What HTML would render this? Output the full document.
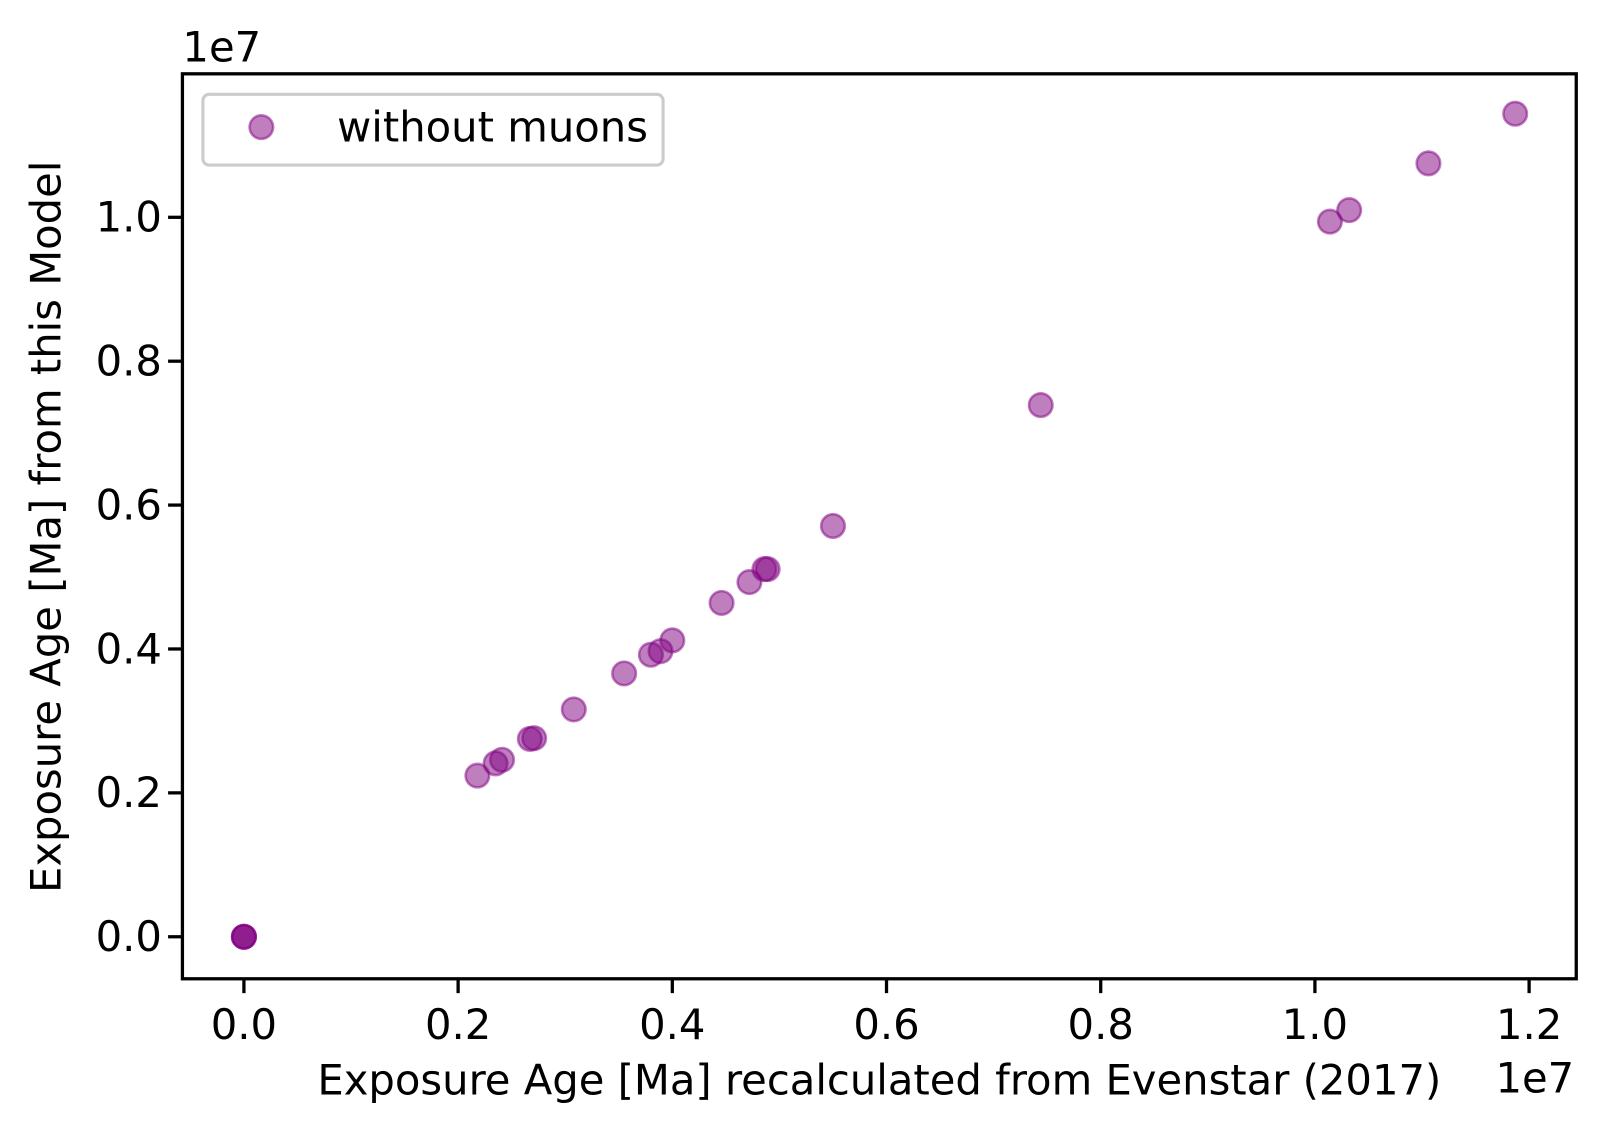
<!DOCTYPE html>
<html><head><meta charset="utf-8"><style>
html,body{margin:0;padding:0;background:#fff;}
svg{display:block;}
svg text{font-family:"DejaVu Sans","Liberation Sans",sans-serif;fill:#000;}
</style></head><body>
<svg id="chart" width="1607" height="1135" viewBox="0 0 1568 1107.4" xmlns="http://www.w3.org/2000/svg">
<rect x="0" y="0" width="1568" height="1108" fill="#fff"/>
<g id="points"></g>
<rect x="178" y="72" width="1360" height="883" fill="none" stroke="#000" stroke-width="3.2"/>
<g id="xticks"></g>
<g id="yticks"></g>
<text x="178" y="60" font-size="40.7">1e7</text>
<text x="1536" y="1066" font-size="40.7" text-anchor="end">1e7</text>
<text x="858" y="1068" font-size="40.7" text-anchor="middle">Exposure Age [Ma] recalculated from Evenstar (2017)</text>
<text transform="translate(59,514) rotate(-90)" font-size="40.7" text-anchor="middle">Exposure Age [Ma] from this Model</text>
<g>
<rect x="198" y="92" width="449" height="69" rx="6" fill="#fff" fill-opacity="0.8" stroke="#ccc" stroke-width="3"/>
<circle cx="255" cy="124" r="11.5" fill="#800080" fill-opacity="0.5" stroke="#800080" stroke-opacity="0.5" stroke-width="2.5"/>
<text x="329" y="138" font-size="40.7">without muons</text>
</g>
</svg>
<script>
const xTicks=[0.0,0.2,0.4,0.6,0.8,1.0,1.2];
const yTicks=[0.0,0.2,0.4,0.6,0.8,1.0];
const xVals=[0,0,0,0.218,0.235,0.241,0.267,0.271,0.308,0.355,0.380,0.389,0.400,0.446,0.472,0.486,0.489,0.550,0.744,1.014,1.032,1.106,1.187];
const yVals=[0,0,0,0.224,0.241,0.246,0.275,0.276,0.316,0.366,0.392,0.397,0.412,0.464,0.493,0.511,0.511,0.571,0.739,0.994,1.010,1.075,1.144];
const NS="http://www.w3.org/2000/svg";
function sx(v){return 238+v*1045;}
function sy(v){return 914-v*702;}
const pg=document.getElementById('points');
for(let i=0;i<xVals.length;i++){
 const c=document.createElementNS(NS,'circle');
 c.setAttribute('cx',sx(xVals[i]));c.setAttribute('cy',sy(yVals[i]));c.setAttribute('r',11.5);
 c.setAttribute('fill','#800080');c.setAttribute('fill-opacity','0.5');
 c.setAttribute('stroke','#800080');c.setAttribute('stroke-opacity','0.5');c.setAttribute('stroke-width','2.5');
 
 
 pg.appendChild(c);
}
const xg=document.getElementById('xticks');
xTicks.forEach(t=>{
 const l=document.createElementNS(NS,'line');
 l.setAttribute('x1',sx(t));l.setAttribute('x2',sx(t));l.setAttribute('y1',955);l.setAttribute('y2',969);
 l.setAttribute('stroke','#000');l.setAttribute('stroke-width','3.2');
 
 
 xg.appendChild(l);
 const tx=document.createElementNS(NS,'text');
 tx.setAttribute('x',sx(t));tx.setAttribute('y',1014);tx.setAttribute('font-size','40.7');tx.setAttribute('text-anchor','middle');
 tx.textContent=t.toFixed(1);
 
 
 xg.appendChild(tx);
});
const yg=document.getElementById('yticks');
yTicks.forEach(t=>{
 const l=document.createElementNS(NS,'line');
 l.setAttribute('x1',164);l.setAttribute('x2',178);l.setAttribute('y1',sy(t));l.setAttribute('y2',sy(t));
 l.setAttribute('stroke','#000');l.setAttribute('stroke-width','3.2');
 
 
 yg.appendChild(l);
 const tx=document.createElementNS(NS,'text');
 tx.setAttribute('x',158);tx.setAttribute('y',sy(t)+14);tx.setAttribute('font-size','40.7');tx.setAttribute('text-anchor','end');
 tx.textContent=t.toFixed(1);
 
 
 yg.appendChild(tx);
});
</script>
</body></html>
